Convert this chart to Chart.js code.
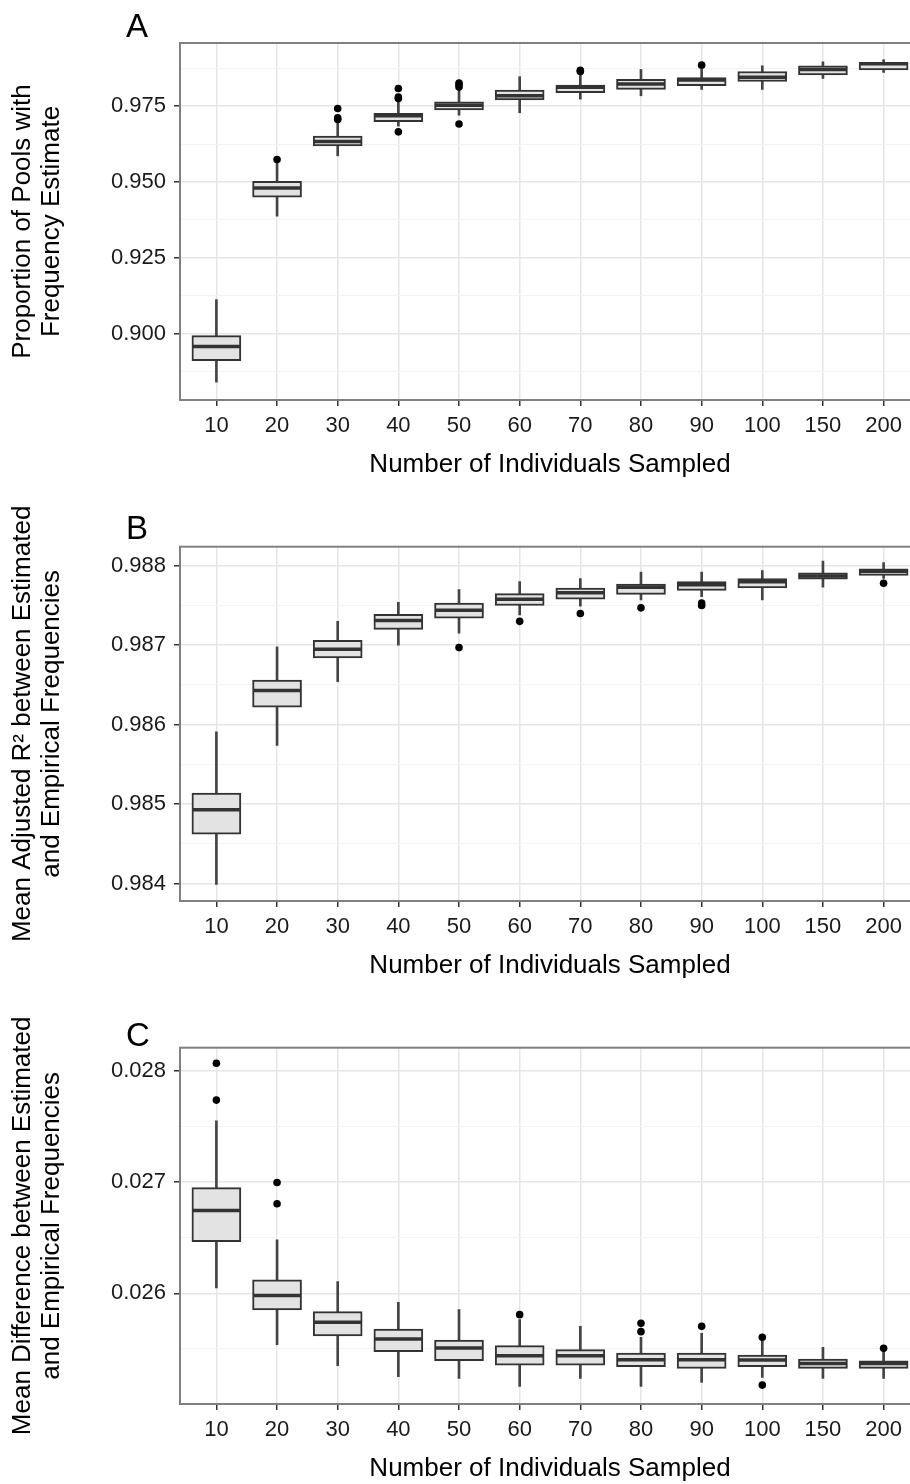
<!DOCTYPE html>
<html>
<head>
<meta charset="utf-8">
<script src="https://cdn.jsdelivr.net/npm/chart.js@4.4.1/dist/chart.umd.min.js"></script>
<style>
    body { margin: 0; width: 910px; height: 1484px; overflow: hidden; position: relative; background: #fff; }
    .panel { position: absolute; left: 0; width: 920px; }
    .letter { position: absolute; left: 126px; font: 33px/1 "Liberation Sans", Arial, sans-serif; color: #000; }
    canvas { display: block; }
</style>
</head>
<body>
<div class="panel" style="top:0px"><canvas id="chartA" width="920" height="480"></canvas><div class="letter" style="top:9px">A</div></div>
<div class="panel" style="top:490px"><canvas id="chartB" width="920" height="491"></canvas><div class="letter" style="top:21px">B</div></div>
<div class="panel" style="top:990px"><canvas id="chartC" width="920" height="494"></canvas><div class="letter" style="top:28px">C</div></div>
<script>
const sampleSizes = ['10', '20', '30', '40', '50', '60', '70', '80', '90', '100', '150', '200']

// A: proportion of pools with frequency estimate
const aLow  = [0.8840, 0.9387, 0.9586, 0.9684, 0.9720, 0.9728, 0.9773, 0.9784, 0.9805, 0.9805, 0.9841, 0.9861]
const aQ1   = [0.8911, 0.9450, 0.9619, 0.9699, 0.9737, 0.9770, 0.9794, 0.9805, 0.9817, 0.9831, 0.9853, 0.9869]
const aMed  = [0.8957, 0.9480, 0.9633, 0.9718, 0.9753, 0.9784, 0.9812, 0.9823, 0.9836, 0.9845, 0.9871, 0.9890]
const aQ3   = [0.8993, 0.9502, 0.9651, 0.9726, 0.9764, 0.9803, 0.9819, 0.9838, 0.9844, 0.9864, 0.9883, 0.9894]
const aHigh = [0.9112, 0.9562, 0.9693, 0.9764, 0.9803, 0.9847, 0.9852, 0.9871, 0.9871, 0.9883, 0.9896, 0.9903]
const aOutX = [1, 2, 2, 2, 3, 3, 3, 3, 4, 4, 4, 4, 6, 6, 8]
const aOutY = [0.9574, 0.9742, 0.9711, 0.9706, 0.9808, 0.9780, 0.9775, 0.9665, 0.9826, 0.9820, 0.9813, 0.9691, 0.9868, 0.9864, 0.9885]
const aTicks = [0.900, 0.925, 0.950, 0.975]
const aMinor = [0.8875, 0.9125, 0.9375, 0.9625, 0.9875]

// B: mean adjusted R2
const bLow  = [0.98399, 0.98574, 0.98654, 0.98700, 0.98715, 0.98738, 0.98749, 0.98757, 0.98761, 0.98757, 0.98773, 0.98784]
const bQ1   = [0.98462, 0.98622, 0.98684, 0.98720, 0.98734, 0.98750, 0.98758, 0.98764, 0.98769, 0.98772, 0.98783, 0.98788]
const bMed  = [0.98493, 0.98643, 0.98695, 0.98731, 0.98744, 0.98758, 0.98766, 0.98773, 0.98776, 0.98780, 0.98787, 0.98793]
const bQ3   = [0.98514, 0.98656, 0.98706, 0.98739, 0.98753, 0.98765, 0.98772, 0.98777, 0.98780, 0.98784, 0.98791, 0.98796]
const bHigh = [0.98591, 0.98698, 0.98730, 0.98754, 0.98770, 0.98780, 0.98784, 0.98792, 0.98792, 0.98794, 0.98806, 0.98804]
const bOutX = [4, 5, 6, 7, 8, 8, 11]
const bOutY = [0.98697, 0.98730, 0.98740, 0.98747, 0.98753, 0.98750, 0.98778]
const bTicks = [0.984, 0.985, 0.986, 0.987, 0.988]
const bMinor = [0.9845, 0.9855, 0.9865, 0.9875]

// C: mean difference between estimated and empirical frequencies
const cLow  = [0.026049, 0.025538, 0.025349, 0.025250, 0.025234, 0.025162, 0.025234, 0.025162, 0.025198, 0.025243, 0.025234, 0.025234]
const cQ1   = [0.026463, 0.025850, 0.025616, 0.025475, 0.025394, 0.025355, 0.025355, 0.025340, 0.025325, 0.025340, 0.025325, 0.025325]
const cMed  = [0.026745, 0.025979, 0.025739, 0.025589, 0.025508, 0.025439, 0.025439, 0.025403, 0.025403, 0.025400, 0.025370, 0.025370]
const cQ3   = [0.026950, 0.026121, 0.025835, 0.025679, 0.025580, 0.025529, 0.025493, 0.025463, 0.025463, 0.025445, 0.025409, 0.025394]
const cHigh = [0.027550, 0.026481, 0.026105, 0.025919, 0.025853, 0.025763, 0.025703, 0.025604, 0.025640, 0.025568, 0.025514, 0.025469]
const cOutX = [0, 0, 1, 1, 5, 7, 7, 8, 9, 9, 11]
const cOutY = [0.028067, 0.027736, 0.026995, 0.026805, 0.025808, 0.025730, 0.025655, 0.025703, 0.025604, 0.025175, 0.025505]
const cTicks = [0.026, 0.027, 0.028]
const cMinor = [0.0255, 0.0265, 0.0275]

const xTitle = 'Number of Individuals Sampled'

Chart.defaults.font.family = '"Liberation Sans", Arial, sans-serif'
Chart.defaults.color = '#1a1a1a'

// ggplot-like panel border on all four sides
const panelBorder = {
    id: 'panelBorder',
    afterDraw(chart) {
        const { ctx, chartArea: a } = chart
        ctx.save()
        ctx.strokeStyle = '#808080'
        ctx.lineWidth = 2
        ctx.strokeRect(a.left, a.top, a.right - a.left, a.bottom - a.top)
        ctx.restore()
    }
}

function isMajor(list, v) {
    return list.some(m => Math.abs(m - v) < 1e-9)
}

function boxPanel(id, p) {
    const ticks = p.ticks.concat(p.minor).sort((a, b) => a - b)
    return new Chart(document.getElementById(id), {
        type: 'bar',
        data: {
            datasets: [
                {
                    type: 'scatter',
                    data: p.outX.map((x, i) => ({ x: x, y: p.outY[i] })),
                    pointRadius: 3.8,
                    backgroundColor: '#000',
                    borderWidth: 0,
                    order: 1
                },
                {
                    type: 'scatter',
                    data: p.med.map((v, i) => ({ x: i, y: v })),
                    pointStyle: 'line',
                    pointRadius: 24,
                    borderColor: '#333',
                    borderWidth: 3.5,
                    order: 2
                },
                {
                    data: p.q1.map((v, i) => ({ x: i, y: [v, p.q3[i]] })),
                    backgroundColor: '#e3e3e3',
                    borderColor: '#333',
                    borderWidth: 2,
                    borderSkipped: false,
                    barThickness: 49,
                    grouped: false,
                    order: 3
                },
                {
                    data: p.low.map((v, i) => ({ x: i, y: [v, p.high[i]] })),
                    backgroundColor: '#444',
                    borderWidth: 0,
                    barThickness: 2,
                    grouped: false,
                    order: 4
                }
            ]
        },
        options: {
            responsive: false,
            animation: false,
            events: [],
            layout: { autoPadding: false, padding: { top: p.top, left: 0, right: 0, bottom: 0 } },
            plugins: {
                legend: { display: false },
                tooltip: { enabled: false }
            },
            scales: {
                x: {
                    type: 'linear',
                    min: -0.6,
                    max: 11.6,
                    offset: false,
                    afterBuildTicks: scale => { scale.ticks = sampleSizes.map((_, i) => ({ value: i })) },
                    afterFit: scale => {
                        scale.height = 80
                        scale.paddingLeft = 0
                        scale.paddingRight = 0
                    },
                    ticks: {
                        callback: v => sampleSizes[v],
                        autoSkip: false,
                        maxRotation: 0,
                        padding: 7,
                        font: { size: 22 },
                        color: '#1a1a1a'
                    },
                    grid: {
                        offset: false,
                        color: '#e6e6e6',
                        lineWidth: 1.5,
                        tickColor: '#333',
                        tickLength: 6,
                        tickWidth: 1.5
                    },
                    border: { display: false },
                    title: {
                        display: true,
                        text: xTitle,
                        color: '#000',
                        font: { size: 26 },
                        padding: { top: 0, bottom: 0 }
                    }
                },
                y: {
                    type: 'linear',
                    min: p.min,
                    max: p.max,
                    afterBuildTicks: scale => { scale.ticks = ticks.map(v => ({ value: v })) },
                    afterFit: scale => {
                        scale.width = 180
                        scale.paddingTop = 0
                        scale.paddingBottom = 0
                    },
                    ticks: {
                        callback: v => isMajor(p.ticks, v) ? v.toFixed(3) : '',
                        padding: 8,
                        font: { size: 22 },
                        color: '#1a1a1a'
                    },
                    grid: {
                        color: c => isMajor(p.ticks, c.tick.value) ? '#e6e6e6' : '#f3f3f3',
                        lineWidth: c => isMajor(p.ticks, c.tick.value) ? 1.5 : 1,
                        tickColor: c => isMajor(p.ticks, c.tick.value) ? '#333' : 'rgba(0,0,0,0)',
                        tickLength: 6,
                        tickWidth: 1.5
                    },
                    border: { display: false },
                    title: {
                        display: true,
                        text: p.yTitle,
                        color: '#000',
                        font: { size: 26, lineHeight: 1.115 },
                        padding: { top: 8.5, bottom: 0 }
                    }
                }
            }
        },
        plugins: [panelBorder]
    })
}

boxPanel('chartA', {
    low: aLow, q1: aQ1, med: aMed, q3: aQ3, high: aHigh, outX: aOutX, outY: aOutY,
    ticks: aTicks, minor: aMinor, min: 0.8781, max: 0.9958, top: 43,
    yTitle: ['Proportion of Pools with', 'Frequency Estimate']
})
boxPanel('chartB', {
    low: bLow, q1: bQ1, med: bMed, q3: bQ3, high: bHigh, outX: bOutX, outY: bOutY,
    ticks: bTicks, minor: bMinor, min: 0.98378, max: 0.98824, top: 56.7,
    yTitle: ['Mean Adjusted R\u00b2 between Estimated', 'and Empirical Frequencies']
})
boxPanel('chartC', {
    low: cLow, q1: cQ1, med: cMed, q3: cQ3, high: cHigh, outX: cOutX, outY: cOutY,
    ticks: cTicks, minor: cMinor, min: 0.025005, max: 0.028207, top: 57.7,
    yTitle: ['Mean Difference between Estimated', 'and Empirical Frequencies']
})
</script>
</body>
</html>
